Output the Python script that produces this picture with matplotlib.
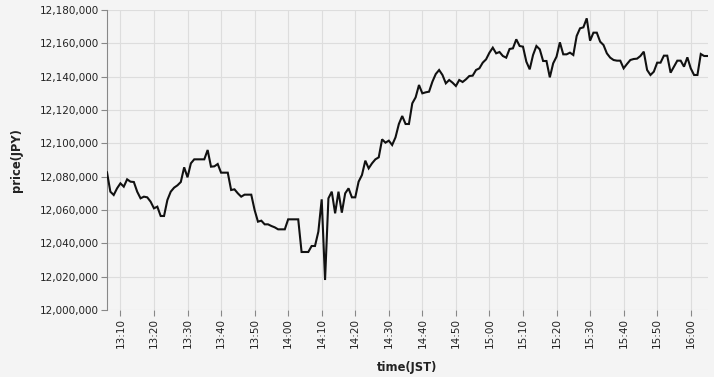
import matplotlib
matplotlib.use("Agg")
import matplotlib.pyplot as plt
import matplotlib.dates as mdates
import matplotlib.ticker as mticker
import numpy as np
import pandas as pd

# one point per minute, 13:06 - 16:05 JST
start_time = "2024-01-01 13:06"
n_minutes = 180

prices = [
    12082600, 12071000, 12069000, 12073000, 12076000, 12074000, 12078400, 12077000, 12076800, 12071000,
    12067000, 12068000, 12067600, 12065000, 12061000, 12062000, 12056400, 12056400, 12066000, 12071000,
    12073400, 12074800, 12076800, 12085600, 12079600, 12088000, 12090400, 12090400, 12090400, 12090400,
    12096000, 12086000, 12086200, 12087600, 12082400, 12082400, 12082400, 12072000, 12072400, 12070000,
    12068000, 12069200, 12069200, 12069200, 12060000, 12053000, 12053600, 12051400, 12051400, 12050400,
    12049600, 12048400, 12048400, 12048400, 12054400, 12054400, 12054400, 12054400, 12034800, 12034800,
    12034800, 12038400, 12038400, 12047000, 12066400, 12018000, 12067000, 12071000, 12058000, 12071000,
    12058400, 12070000, 12073000, 12067600, 12067600, 12077000, 12081000, 12089600, 12085000, 12088000,
    12090400, 12091600, 12102400, 12100400, 12101600, 12099000, 12103600, 12111600, 12116400, 12111600,
    12111600, 12124000, 12127600, 12135000, 12130000, 12130600, 12131000, 12137000, 12141600, 12144000,
    12141000, 12136000, 12138000, 12136400, 12134400, 12138000, 12136800, 12138400, 12140400, 12140600,
    12144000, 12145000, 12148400, 12150400, 12154400, 12157400, 12154000, 12154800, 12152400, 12151400,
    12156600, 12157000, 12162400, 12158400, 12158000, 12149000, 12144400, 12153000, 12158400, 12156400,
    12149400, 12149400, 12139600, 12148000, 12152000, 12160600, 12153400, 12153400, 12154400, 12153000,
    12164400, 12169000, 12169600, 12175000, 12161600, 12166400, 12166400, 12161000, 12159000, 12154000,
    12151400, 12150000, 12149600, 12149600, 12145000, 12147600, 12150000, 12150600, 12150800, 12152400,
    12155000, 12144000, 12141000, 12143000, 12148400, 12148400, 12152600, 12152600, 12142400, 12146000,
    12149600, 12149600, 12146000, 12151600, 12145000, 12141000, 12141000, 12153600, 12152400, 12152400,
]

y_min, y_max, y_step = 12000000, 12180000, 20000

times = pd.date_range(start_time, periods=n_minutes, freq="1min")

bg = "#f4f4f4"
plt.rcParams["font.family"] = "DejaVu Sans"

fig = plt.figure(figsize=(7.14, 3.77), dpi=100, facecolor=bg)
ax = fig.add_axes([107 / 714, 67 / 377, 600.5 / 714, 300 / 377])
ax.set_facecolor(bg)

ax.plot(times, prices, color="#111111", linewidth=1.5, solid_joinstyle="miter", zorder=3)

ax.set_xlim(times[0], times[-1])
ax.set_ylim(y_min, y_max)
ax.yaxis.set_major_locator(mticker.MultipleLocator(y_step))
ax.yaxis.set_major_formatter(mticker.FuncFormatter(lambda v, p: f"{int(v):,}"))
ax.xaxis.set_major_locator(mdates.MinuteLocator(byminute=range(0, 60, 10)))
ax.xaxis.set_major_formatter(mdates.DateFormatter("%H:%M"))

ax.grid(True, color="#dddddd", linewidth=0.8, zorder=0)
ax.set_axisbelow(True)
for side in ["top", "right", "bottom"]:
    ax.spines[side].set_visible(False)
ax.spines["left"].set_color("#888888")
ax.spines["left"].set_linewidth(0.8)

ax.tick_params(axis="both", colors="#888888", length=4, width=0.8, labelsize=7.5, labelcolor="#222222")
ax.tick_params(axis="x", labelrotation=90, pad=2)
ax.tick_params(axis="y", pad=2)

# axis titles placed in figure pixels like the original
fig.text(407 / 714, 1 - 367 / 377, "time(JST)", ha="center", va="center",
         fontsize=8.3, fontweight="bold", color="#222222")
fig.text(17 / 714, 1 - 160 / 377, "price(JPY)", ha="center", va="center", rotation=90,
         fontsize=8.3, fontweight="bold", color="#222222")

fig.savefig("out.png", dpi=100, facecolor=bg)
